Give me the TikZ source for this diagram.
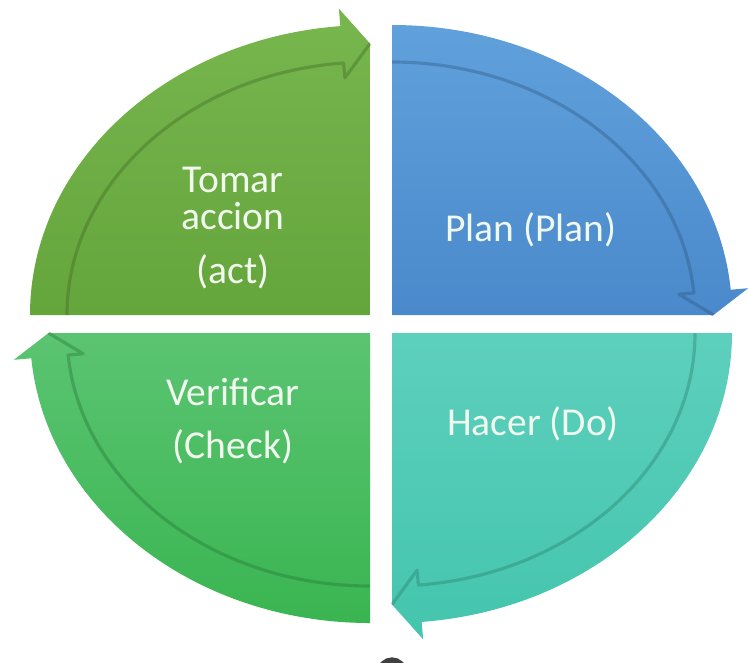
\documentclass[tikz,border=0pt]{standalone}
\usepackage{fontspec}
\setmainfont{Carlito}
\usetikzlibrary{calc}
\definecolor{acttop}{HTML}{78B64E}
\definecolor{actbot}{HTML}{64A53C}
\definecolor{plantop}{HTML}{60A1DC}
\definecolor{planbot}{HTML}{4A89CB}
\definecolor{dotop}{HTML}{5DD0BD}
\definecolor{dobot}{HTML}{44C5AD}
\definecolor{checktop}{HTML}{5BC472}
\definecolor{checkbot}{HTML}{3AB551}
\definecolor{lbltext}{HTML}{F1F8EE}

\begin{document}
\begin{tikzpicture}[
  lbl/.style={font=\fontsize{22.5}{30.6}\selectfont, text=lbltext, align=center},
  rim/.style={draw=#1!65!black, line width=1.8pt, opacity=0.4, line join=round},
]
\useasboundingbox (-7.62,-6.76) rectangle (7.34,6.48);

% Quadrants: start angle / corner / colours (each arrow runs clockwise)
\foreach \s/\cx/\cy/\ctop/\cbot in {180/-0.22/0.18/acttop/actbot,
    90/0.22/0.18/plantop/planbot, 0/0.22/-0.18/dotop/dobot,
    -90/-0.22/-0.18/checktop/checkbot}{
  \pgfmathtruncatemacro\e{\s-85}
  \pgfmathtruncatemacro\h{\s-90}
  \begin{scope}[shift={(\cx,\cy)}]
    \coordinate (tip) at (\h:6.43cm and 5.43cm);
    \shade[top color=\ctop, bottom color=\cbot] (0,0) -- (\s:6.8cm and 5.8cm)
      arc[start angle=\s, end angle=\e, x radius=6.8cm, y radius=5.8cm]
      -- (\e:7.15cm and 6.15cm) -- (tip) -- cycle;
    \draw[rim=\cbot] (\s:6.06cm and 5.06cm)
      arc[start angle=\s, end angle=\e, x radius=6.06cm, y radius=5.06cm]
      -- (\e:5.76cm and 4.76cm) -- (tip);
  \end{scope}
}

% Labels
\node[lbl] (act) at (-2.96,1.92) {Tomar\\[-9.6pt]accion\\(act)};
\node[lbl] (plan) at (3.0,1.88) {Plan (Plan)};
\node[lbl] (do) at (3.04,-2.0) {Hacer (Do)};
\node[lbl] (check) at (-2.96,-1.94) {Verificar\\(Check)};

% cut-off mark at the bottom edge
\draw[black!75, line width=3pt] (0.22,-6.97) circle (0.25);

\end{tikzpicture}
\end{document}
